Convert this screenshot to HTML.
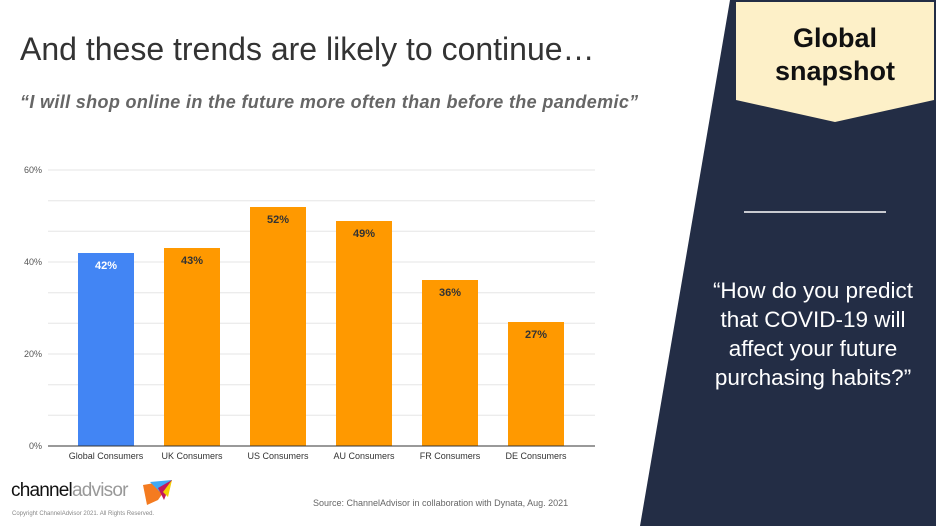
<!DOCTYPE html>
<html><head><style>
body{margin:0;width:936px;height:526px;overflow:hidden;background:#fff;font-family:"Liberation Sans",sans-serif;position:relative}
.abs{position:absolute}
</style></head><body>
<div class="abs" style="left:20px;top:31px;font-size:32px;color:#333;white-space:nowrap;">And these trends are likely to continue…</div>
<div class="abs" style="left:20px;top:92px;font-size:18px;color:#666;font-style:italic;font-weight:bold;white-space:nowrap;letter-spacing:0.35px;">“I will shop online in the future more often than before the pandemic”</div>
<svg class="abs" style="left:0;top:0" width="936" height="526">
<g stroke="#e6e6e6" stroke-width="1">
<line x1="48" x2="595" y1="170" y2="170"/><line x1="48" x2="595" y1="200.7" y2="200.7"/><line x1="48" x2="595" y1="231.3" y2="231.3"/>
<line x1="48" x2="595" y1="262" y2="262"/><line x1="48" x2="595" y1="292.7" y2="292.7"/><line x1="48" x2="595" y1="323.3" y2="323.3"/>
<line x1="48" x2="595" y1="354" y2="354"/><line x1="48" x2="595" y1="384.7" y2="384.7"/><line x1="48" x2="595" y1="415.3" y2="415.3"/>
</g>
<g font-size="9" fill="#555" text-anchor="end">
<text x="42" y="173">60%</text><text x="42" y="265">40%</text><text x="42" y="357">20%</text><text x="42" y="449">0%</text>
</g>
<rect x="78" y="253" width="56" height="193" fill="#4285f4"/>
<rect x="164" y="248" width="56" height="198" fill="#ff9900"/>
<rect x="250" y="207" width="56" height="239" fill="#ff9900"/>
<rect x="336" y="221" width="56" height="225" fill="#ff9900"/>
<rect x="422" y="280" width="56" height="166" fill="#ff9900"/>
<rect x="508" y="322" width="56" height="124" fill="#ff9900"/>
<line x1="48" x2="595" y1="446" y2="446" stroke="#333"/>
<g font-size="11" font-weight="bold" text-anchor="middle" fill="#333">
<text x="106" y="269" fill="#fff">42%</text><text x="192" y="264">43%</text><text x="278" y="223">52%</text>
<text x="364" y="237">49%</text><text x="450" y="296">36%</text><text x="536" y="338">27%</text>
</g>
<g font-size="9" text-anchor="middle" fill="#333">
<text x="106" y="459">Global Consumers</text><text x="192" y="459">UK Consumers</text><text x="278" y="459">US Consumers</text>
<text x="364" y="459">AU Consumers</text><text x="450" y="459">FR Consumers</text><text x="536" y="459">DE Consumers</text>
</g>
<polygon points="730,0 936,0 936,526 640,526" fill="#232d45"/>
<polygon points="736,2 934,2 934,100 835,122 736,100" fill="#fdf0c8"/>
<line x1="744" x2="886" y1="212" y2="212" stroke="#fff" stroke-width="1.5"/>
<polygon points="143,485 172,480 158,500 147,505" fill="#f47b20"/>
<polygon points="150,482 172,480 160,492" fill="#3fa9f5"/>
<polygon points="158,488 172,480 164,500" fill="#c2185b"/>
<polygon points="163,492 172,480 168,497" fill="#f5d000"/>
</svg>
<div class="abs" style="left:736px;top:22px;width:198px;text-align:center;font-size:27px;font-weight:bold;line-height:33px;color:#111;">Global<br>snapshot</div>
<div class="abs" style="left:690px;top:276px;width:246px;text-align:center;font-size:22.5px;line-height:29px;color:#fff;white-space:nowrap;">“How do you predict<br>that COVID-19 will<br>affect your future<br>purchasing habits?”</div>
<div class="abs" style="left:11px;top:480px;font-size:19px;color:#111;letter-spacing:-0.8px;white-space:nowrap;">channel<span style="color:#999">advisor</span></div>
<div class="abs" style="left:12px;top:511px;font-size:6px;color:#888;">Copyright ChannelAdvisor 2021. All Rights Reserved.</div>
<div class="abs" style="left:313px;top:498px;font-size:9px;color:#666;">Source: ChannelAdvisor in collaboration with Dynata, Aug. 2021</div>
</body></html>
